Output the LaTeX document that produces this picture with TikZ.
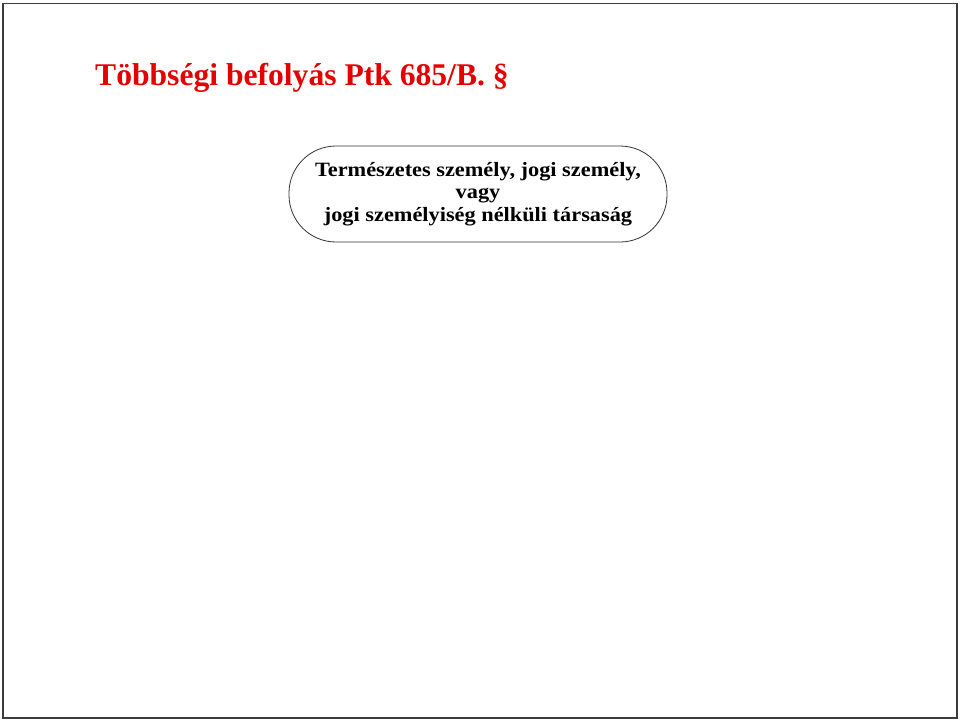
\documentclass[tikz,border=0pt]{standalone}
\usepackage{fontspec}
\setmainfont{Liberation Serif}
\newfontfamily\boxfont[FakeStretch=1.1]{Liberation Serif}
\definecolor{titlered}{RGB}{228,0,0}
\definecolor{framegray}{RGB}{60,60,60}
\begin{document}
\begin{tikzpicture}[x=1pt,y=-1pt,
  titlestyle/.style={text=titlered,font=\fontsize{31.6}{38}\selectfont\bfseries,anchor=base west,inner sep=0pt},
  boxstyle/.style={draw=black!80,line width=0.8pt,rounded corners=47pt,minimum width=378pt,minimum height=96pt,align=center,font=\boxfont\fontsize{20.3}{22.3}\selectfont\bfseries,inner sep=0pt}]
\useasboundingbox (0,0) rectangle (960,721);
\draw[framegray,line width=1.5pt] (3,3.5) rectangle (957,718);
\node[titlestyle] (title) at (95,85) {Többségi befolyás Ptk 685/B. §};
\node[boxstyle] (box) at (478,194) {Természetes személy, jogi személy,\\vagy\\jogi személyiség nélküli társaság};
\end{tikzpicture}
\end{document}
